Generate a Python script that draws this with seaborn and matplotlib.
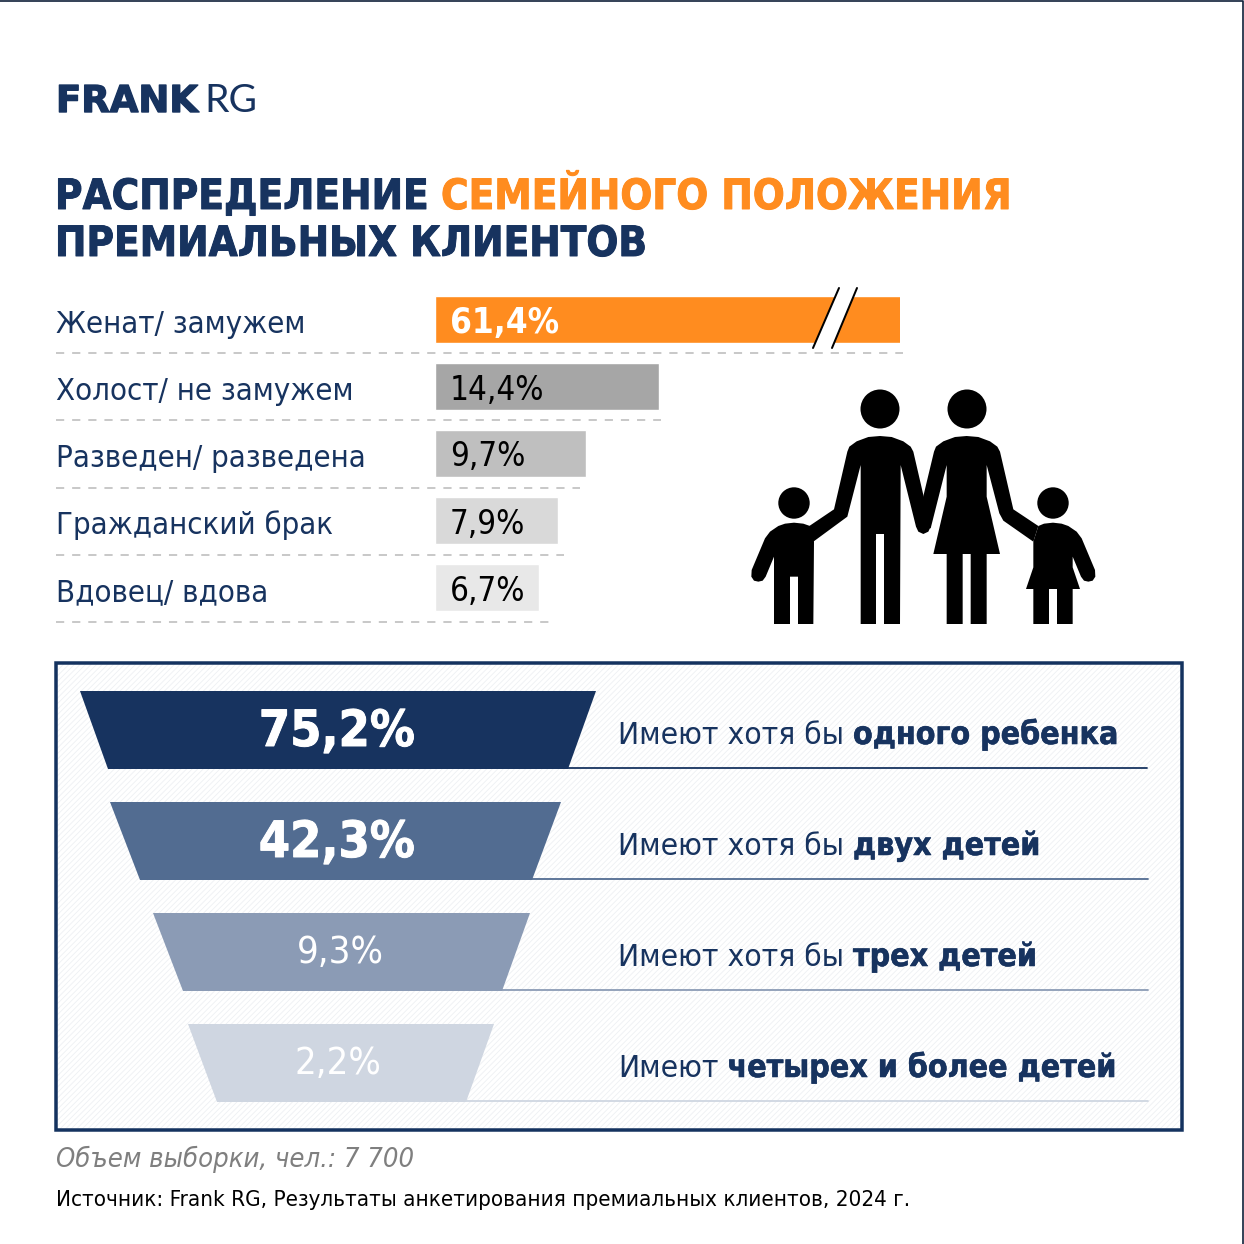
import matplotlib
matplotlib.use("Agg")
import matplotlib.pyplot as plt
from matplotlib.patches import Circle, Polygon, Rectangle
from matplotlib.transforms import ScaledTranslation
import matplotlib.patheffects as pe
import seaborn as sns

# marital status bars
status = ["Женат/ замужем", "Холост/ не замужем", "Разведен/ разведена", "Гражданский брак", "Вдовец/ вдова"]
status_share = [61.4, 14.4, 9.7, 7.9, 6.7]
status_labels = ["61,4%", "14,4%", "9,7%", "7,9%", "6,7%"]
status_colors = ["#FF8C1F", "#A6A6A6", "#BFBFBF", "#D9D9D9", "#E8E8E8"]

# children funnel
children_labels = ["75,2%", "42,3%", "9,3%", "2,2%"]
children_plain = ["Имеют хотя бы ", "Имеют хотя бы ", "Имеют хотя бы ", "Имеют "]
children_bold = ["одного ребенка", "двух детей", "трех детей", "четырех и более детей"]
funnel_colors = ["#17335F", "#526C91", "#8B9BB5", "#CFD6E1"]

NAVY = "#17335F"
W = 1244

sns.set_theme(style="white")
plt.rcParams["font.family"] = ["DejaVu Sans"]
plt.rcParams["font.stretch"] = "condensed"
plt.rcParams["hatch.linewidth"] = 0.6


def px(v):
    # pixels to points at dpi 100
    return v * 0.72


# bold text in the reference is heavier than the font, so add a thin stroke
def heavy(text, color, width=0.7):
    text.set_path_effects([pe.withStroke(linewidth=width, foreground=color)])


fig = plt.figure(figsize=(12.44, 12.44), dpi=100, facecolor="white")

# bars: about 15.55 px per percent, the first bar is cut off by the axis limit
ax = fig.add_axes([435 / W, 1 - 621 / W, 465 / W, 335 / W])
sns.barplot(x=status_share, y=status, hue=status, palette=status_colors, legend=False,
            width=0.7, saturation=1, ax=ax, zorder=2)
ax.set_xlim(0, 465 / 15.55)
ax.set_ylim(4.5, -0.5)
ax.patch.set_alpha(0)
sns.despine(ax=ax, left=True, bottom=True)
ax.set_xticks([])
ax.set_xlabel("")
ax.set_ylabel("")
ax.tick_params(axis="y", length=0, pad=px(379))
for tick in ax.yaxis.get_major_ticks():
    label = tick.label1
    label.set_ha("left")
    label.set_fontsize(px(31))
    label.set_color(NAVY)
    label.set_transform(label.get_transform() + ScaledTranslation(0, -0.02, fig.dpi_scale_trans))
for i, label in enumerate(status_labels):
    ax.text(0.95, i, label, va="center_baseline", ha="left", fontsize=px(35) if i == 0 else px(33),
            color="white" if i == 0 else "black", fontweight="bold" if i == 0 else "normal")

# everything else sits on a full figure layer in pixels
ov = fig.add_axes([0, 0, 1, 1], zorder=5)
ov.set_xlim(0, W)
ov.set_ylim(W, 0)
ov.axis("off")

# picture edge
ov.plot([0, 1242.5, 1242.5], [0.5, 0.5, W], color="#10203A", lw=1.2)

# logo
logo = ov.text(56, 112, "FRANK", fontsize=px(37), family="DejaVu Sans", stretch="normal", fontweight="bold",
               color=NAVY, va="baseline")
heavy(logo, NAVY, 1.0)
ov.text(204, 112, "RG", fontsize=px(39), family="Lato", stretch="normal", color=NAVY, va="baseline")

# title
title_parts = [(55, 209, "РАСПРЕДЕЛЕНИЕ", NAVY), (441, 209, "СЕМЕЙНОГО ПОЛОЖЕНИЯ", "#FF8C1F"),
               (55, 256, "ПРЕМИАЛЬНЫХ КЛИЕНТОВ", NAVY)]
for x, y, part, color in title_parts:
    t = ov.text(x, y, part, fontsize=px(41.8), fontweight="bold", color=color, va="baseline")
    heavy(t, color)

# dashed leaders under the bars
leader_y = [353, 420, 488, 555, 622]
leader_end = [903, 661, 580, 564, 549]
for y, end in zip(leader_y, leader_end):
    ov.plot([56, end], [y, y], color="#C9C9C9", lw=px(2), dashes=(4.1, 3.97), dash_capstyle="butt")

# axis break on the first bar
ov.add_patch(Polygon([(813, 348), (839, 288), (857, 288), (832, 348)], fc="white", ec="none"))
ov.plot([813, 839], [348, 288], color="black", lw=px(2))
ov.plot([832, 857], [348, 288], color="black", lw=px(2))

# family pictogram, traced in a 3x crop with origin (740, 280)
man = [(328, 500), (350, 484), (385, 471), (420, 468), (455, 471), (490, 484), (512, 500), (520, 515), (572, 740),
       (565, 755), (550, 762), (535, 755), (528, 740), (482, 555), (480, 1032), (432, 1032), (432, 762), (408, 762),
       (408, 1032), (362, 1032), (362, 555), (322, 710), (220, 785), (205, 740), (282, 688), (322, 515)]
woman = [(588, 500), (610, 484), (645, 471), (680, 468), (715, 471), (750, 484), (772, 500), (780, 515), (820, 688),
         (895, 738), (880, 785), (790, 722), (778, 700), (740, 555), (740, 650), (780, 822), (740, 822), (740, 1032),
         (692, 1032), (692, 822), (668, 822), (668, 1032), (620, 1032), (620, 822), (580, 822), (620, 650), (620, 555),
         (572, 745), (528, 740), (582, 515)]
boy = [(162, 728), (190, 731), (210, 738), (222, 785), (220, 1032), (174, 1032), (174, 890), (150, 890), (150, 1032),
       (102, 1032), (102, 830), (77, 890), (68, 902), (55, 905), (42, 902), (34, 890), (35, 870), (75, 775), (90, 755),
       (115, 738), (135, 731)]
girl = [(939, 728), (912, 731), (895, 738), (880, 785), (880, 862), (858, 927), (880, 927), (880, 1032), (927, 1032),
        (927, 927), (951, 927), (951, 1032), (998, 1032), (998, 927), (1020, 927), (998, 862), (998, 830), (1023, 890),
        (1032, 902), (1045, 905), (1058, 902), (1066, 890), (1065, 870), (1025, 775), (1010, 755), (985, 738),
        (965, 731)]
for shape in [man, woman, boy, girl]:
    ov.add_patch(Polygon([(740 + a / 3, 280 + b / 3) for a, b in shape], fc="black", ec="none"))
for cx, cy, r in [(880, 409, 19.5), (967, 409, 19.5), (794, 503, 15.7), (1053, 503, 15.7)]:
    ov.add_patch(Circle((cx, cy), r, fc="black", ec="none"))

# funnel panel
ov.add_patch(Rectangle((56, 663), 1126, 467, fc="white", ec="#EEF0F3", hatch="//////", lw=0))
ov.add_patch(Rectangle((56, 663), 1126, 467, fc="none", ec="#14325F", lw=px(3.5)))

funnel_top = [(80, 596), (110, 561), (153, 530), (188, 494)]
funnel_bottom = [(108, 568), (140, 532), (183, 502), (217, 466)]
funnel_y = [691, 802, 913, 1024]
rule_end = [1147, 1148, 1148, 1148]
center_x = [337, 337, 340, 338]

renderer = fig.canvas.get_renderer()
for i in range(4):
    y0 = funnel_y[i]
    y1 = y0 + 78
    ov.add_patch(Polygon([(funnel_top[i][0], y0), (funnel_top[i][1], y0), (funnel_bottom[i][1], y1),
                          (funnel_bottom[i][0], y1)], fc=funnel_colors[i], ec="none"))
    ov.plot([funnel_bottom[i][1], rule_end[i]], [y1 - 1, y1 - 1], color=funnel_colors[i], lw=px(1.8))
    big = i < 2
    v = ov.text(center_x[i], y0 + 36, children_labels[i], ha="center", va="center_baseline", color="white",
                fontsize=px(50) if big else px(38), fontweight="bold" if big else "normal")
    if big:
        heavy(v, "white")
    t = ov.text(618.5, y0 + 53, children_plain[i].strip(), fontsize=px(31.5), color=NAVY, va="baseline")
    # bold part starts where the plain part ends
    x_end = t.get_window_extent(renderer).x1
    b = ov.text(x_end + 8.5, y0 + 53, children_bold[i], fontsize=px(31.9), fontweight="bold", color=NAVY, va="baseline")
    heavy(b, NAVY, 0.4)

# notes
ov.text(56, 1167, "Объем выборки, чел.: 7 700", fontsize=px(27.3), style="italic", color="#7F7F7F", va="baseline")
ov.text(56, 1206, "Источник: Frank RG, Результаты анкетирования премиальных клиентов, 2024 г.", fontsize=px(22.25),
        color="black", va="baseline")

fig.savefig("out.png", dpi=100)
